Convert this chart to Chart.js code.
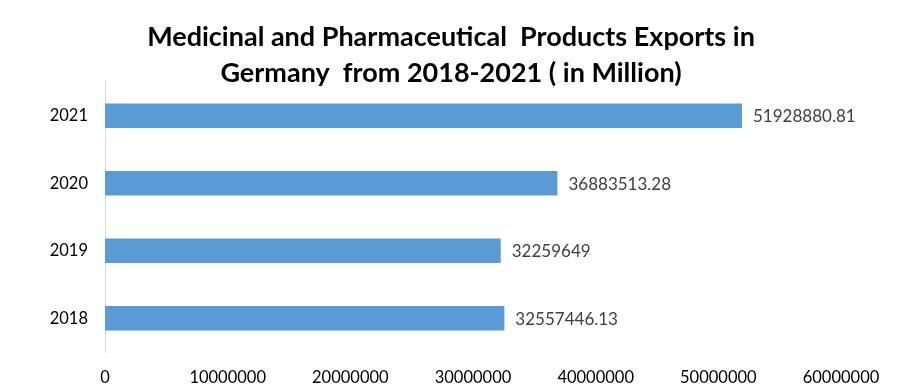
<!DOCTYPE html>
<html>
<head>
<meta charset="utf-8">
<script src="https://cdn.jsdelivr.net/npm/chart.js@4"></script>
<style>
  html, body { margin: 0; padding: 0; background: #fff; }
  #wrap { width: 902px; height: 391px; position: relative; }
</style>
</head>
<body>
<div id="wrap"><canvas id="myChart"></canvas></div>
<script>
const years = ['2021', '2020', '2019', '2018'];
const exportsValues = [51928880.81, 36883513.28, 32259649, 32557446.13];
const valueLabels = ['51928880.81', '36883513.28', '32259649', '32557446.13'];
const xTicks = [0, 10000000, 20000000, 30000000, 40000000, 50000000, 60000000];

const ctx = document.getElementById('myChart');

// value text at the end of every bar
const barValues = {
    id: 'barValues',
    afterDatasetsDraw(chart) {
        const c = chart.ctx;
        const meta = chart.getDatasetMeta(0);
        c.save();
        c.font = '17px Lato';
        c.fillStyle = '#404040';
        c.textAlign = 'left';
        c.textBaseline = 'middle';
        meta.data.forEach((bar, i) => {
            c.fillText(valueLabels[i], bar.x + 11, bar.y + 1);
        });
        c.restore();
    }
};

new Chart(ctx, {
    type: 'bar',
    data: {
        labels: years,
        datasets: [{
            data: exportsValues,
            backgroundColor: '#5b9bd5',
            barPercentage: 0.36,
            categoryPercentage: 1
        }]
    },
    plugins: [barValues],
    options: {
        indexAxis: 'y',
        responsive: true,
        maintainAspectRatio: false,
        animation: false,
        layout: {
            padding: 0
        },
        plugins: {
            legend: { display: false },
            tooltip: { enabled: false },
            title: {
                display: true,
                text: ['Medicinal and Pharmaceutical  Products Exports in', 'Germany  from 2018-2021 ( in Million)'],
                color: '#000',
                font: { family: 'Lato', size: 27, weight: 'bold', lineHeight: 1.333 },
                padding: { top: 19, bottom: -9 }
            }
        },
        scales: {
            x: {
                min: 0,
                max: 60000000,
                afterBuildTicks(scale) {
                    scale.ticks = xTicks.map(v => ({ value: v }));
                },
                afterFit(scale) { scale.height = 39; },
                grid: { display: false, drawTicks: false },
                border: { display: false },
                ticks: {
                    color: '#000',
                    font: { family: 'Lato', size: 16.5 },
                    padding: 16,
                    maxRotation: 0,
                    callback: v => String(v)
                }
            },
            y: {
                grid: { display: false, drawTicks: false },
                border: { display: true, color: '#d9d9d9', width: 1 },
                afterFit(scale) { scale.width = 105; },
                ticks: {
                    color: '#000',
                    font: { family: 'Lato', size: 16.5 },
                    padding: 17
                }
            },
            // empty axis that only keeps room on the right
            yRight: {
                type: 'category',
                position: 'right',
                grid: { display: false, drawTicks: false },
                border: { display: false },
                ticks: { display: false },
                afterFit(scale) { scale.width = 61; }
            }
        }
    }
});
</script>
</body>
</html>
